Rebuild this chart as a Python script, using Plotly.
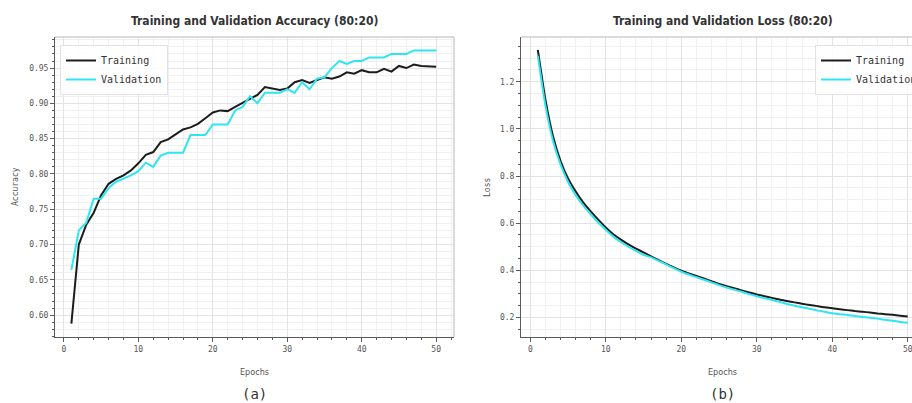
import plotly.graph_objects as go

# Training history, 80:20 split
epochs = list(range(1, 51))

train_acc = [0.588, 0.700, 0.728, 0.745, 0.770, 0.786, 0.793, 0.798, 0.805, 0.815,
             0.827, 0.831, 0.845, 0.849, 0.856, 0.863, 0.866, 0.871, 0.879, 0.887,
             0.890, 0.889, 0.895, 0.901, 0.907, 0.912, 0.923, 0.921, 0.919, 0.921,
             0.930, 0.933, 0.929, 0.933, 0.937, 0.935, 0.938, 0.944, 0.942, 0.947,
             0.944, 0.944, 0.949, 0.945, 0.953, 0.950, 0.955, 0.953, 0.952, 0.952]

val_acc = [0.664, 0.720, 0.731, 0.765, 0.765, 0.780, 0.789, 0.793, 0.798, 0.804,
           0.816, 0.810, 0.826, 0.830, 0.830, 0.830, 0.855, 0.855, 0.855, 0.870,
           0.870, 0.870, 0.890, 0.895, 0.910, 0.900, 0.915, 0.915, 0.915, 0.920,
           0.915, 0.930, 0.920, 0.935, 0.937, 0.950, 0.960, 0.956, 0.960, 0.960,
           0.965, 0.965, 0.965, 0.970, 0.970, 0.970, 0.975, 0.975, 0.975, 0.975]

train_loss = [1.335, 1.125, 0.970, 0.865, 0.790, 0.735, 0.688, 0.650, 0.615, 0.582,
              0.553, 0.530, 0.510, 0.492, 0.476, 0.459, 0.443, 0.427, 0.412, 0.398,
              0.387, 0.376, 0.365, 0.354, 0.342, 0.333, 0.324, 0.315, 0.306, 0.297,
              0.290, 0.283, 0.276, 0.270, 0.264, 0.258, 0.253, 0.248, 0.243, 0.239,
              0.235, 0.231, 0.227, 0.224, 0.221, 0.217, 0.214, 0.211, 0.207, 0.204]

val_loss = [1.310, 1.100, 0.950, 0.850, 0.775, 0.720, 0.675, 0.638, 0.603, 0.572,
            0.543, 0.520, 0.500, 0.482, 0.466, 0.455, 0.440, 0.425, 0.409, 0.394,
            0.382, 0.371, 0.360, 0.349, 0.337, 0.327, 0.318, 0.309, 0.299, 0.290,
            0.282, 0.274, 0.266, 0.257, 0.250, 0.243, 0.237, 0.230, 0.224, 0.218,
            0.214, 0.210, 0.206, 0.202, 0.199, 0.195, 0.190, 0.186, 0.181, 0.177]

W, H = 912, 403
BLACK = "#1c1c1c"
CYAN = "#2ee6f2"
MONO = "DejaVu Sans Mono, Liberation Mono, monospace"
COND = "DejaVu Sans Condensed, Liberation Sans Narrow, Roboto, sans-serif"

fig = go.Figure()
fig.add_trace(go.Scatter(x=epochs, y=train_acc, mode="lines", name="Training",
                         line=dict(color=BLACK, width=2), xaxis="x", yaxis="y",
                         legend="legend"))
fig.add_trace(go.Scatter(x=epochs, y=val_acc, mode="lines", name="Validation",
                         line=dict(color=CYAN, width=2), xaxis="x", yaxis="y",
                         legend="legend"))
fig.add_trace(go.Scatter(x=epochs, y=train_loss, mode="lines", name="Training",
                         line=dict(color=BLACK, width=2, shape="spline",
                                   smoothing=0.6),
                         xaxis="x2", yaxis="y2", legend="legend2"))
fig.add_trace(go.Scatter(x=epochs, y=val_loss, mode="lines", name="Validation",
                         line=dict(color=CYAN, width=2, shape="spline",
                                   smoothing=0.6),
                         xaxis="x2", yaxis="y2", legend="legend2"))

ydom = [1 - 337 / H, 1 - 37 / H]


def axis_style(**kw):
    base = dict(
        showline=True, linecolor="#5a5a5a", linewidth=1, mirror=False,
        ticks="outside", ticklen=4, tickcolor="#5a5a5a", tickwidth=1,
        tickfont=dict(family=MONO, size=8, color="#555"),
        ticklabeloverflow="allow",
        showgrid=True, gridcolor="#e3e3e3", gridwidth=1,
        zeroline=False,
    )
    base.update(kw)
    return base


def minor(step):
    return dict(dtick=step, ticks="outside", ticklen=2, tickcolor="#5a5a5a",
                showgrid=True, gridcolor="#f0f0f0")


legend_style = dict(yanchor="top", xanchor="left", y=1 - 45 / H,
                    bgcolor="rgba(255,255,255,0.85)", bordercolor="#e2e2e2",
                    borderwidth=1, font=dict(family=MONO, size=10, color="#333"),
                    itemwidth=30, tracegroupgap=0)

fig.update_layout(
    width=W, height=H,
    margin=dict(l=0, r=0, t=0, b=0, autoexpand=False),
    paper_bgcolor="white", plot_bgcolor="white",
    xaxis=axis_style(domain=[55 / W, 454 / W], range=[-1.2, 52.4], dtick=10,
                     tick0=0, anchor="y", minor=minor(2)),
    yaxis=axis_style(domain=ydom, range=[0.569, 0.994], dtick=0.05, tick0=0,
                     tickformat=".2f", anchor="x", minor=minor(0.01)),
    xaxis2=axis_style(domain=[521 / W, 1.0], range=[-1.23, 50.56], dtick=10,
                      tick0=0, anchor="y2", minor=minor(2)),
    yaxis2=axis_style(domain=ydom, range=[0.117, 1.39], dtick=0.2, tick0=0,
                      tickformat=".1f", anchor="x2", minor=minor(0.05)),
    legend=dict(x=60 / W, **legend_style),
    legend2=dict(x=815 / W, **legend_style),
    showlegend=True,
)

# light frame on the top / right sides of each panel
fig.add_shape(type="line", xref="x domain", yref="y domain", x0=0, x1=1, y0=1, y1=1,
              line=dict(color="#cfcfcf", width=1.5), layer="above")
fig.add_shape(type="line", xref="x domain", yref="y domain", x0=1, x1=1, y0=0, y1=1,
              line=dict(color="#cfcfcf", width=1.5), layer="above")
fig.add_shape(type="line", xref="x2 domain", yref="y2 domain", x0=0, x1=1, y0=1, y1=1,
              line=dict(color="#cfcfcf", width=1.5), layer="above")

panel_centres = (254.5 / W, 722.5 / W)
titles = ("Training and Validation Accuracy (80:20)",
          "Training and Validation Loss (80:20)")
ylabels = ("Accuracy", "Loss")
ylabel_x = (15 / W, 487 / W)
tags = ("(a)", "(b)")


def label(text, x, y, font, angle=0):
    fig.add_annotation(text=text, x=x, y=y, xref="paper", yref="paper",
                       xanchor="center", yanchor="middle", showarrow=False,
                       textangle=angle, font=font)


for cx, title, ylab, yx, tag in zip(panel_centres, titles, ylabels, ylabel_x, tags):
    label("<b>" + title + "</b>", cx, 1 - 21 / H,
          dict(family=COND, size=12, color="#333"))
    label("Epochs", cx, 1 - 372 / H, dict(family=COND, size=9, color="#555"))
    label(ylab, yx, 1 - 187 / H, dict(family=MONO, size=8, color="#555"), -90)
    label(tag, cx, 1 - 394 / H, dict(family=MONO, size=14, color="#333"))

fig.write_html("out.html")
